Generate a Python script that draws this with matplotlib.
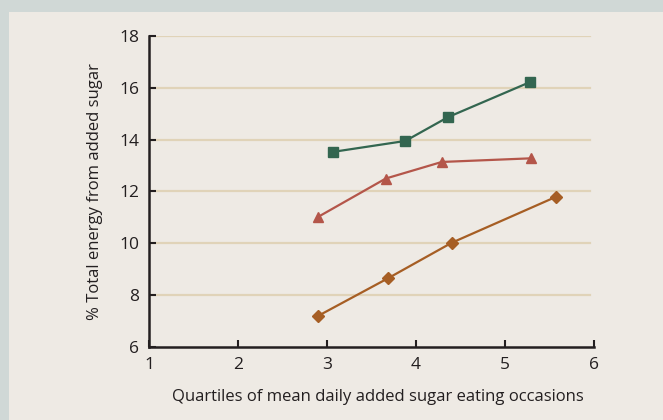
import matplotlib.pyplot as plt
from matplotlib.patches import Rectangle

# data
green_x = [3.07, 3.88, 4.36, 5.28]
green_y = [13.53, 13.95, 14.87, 16.22]
red_x = [2.90, 3.66, 4.29, 5.29]
red_y = [11.02, 12.50, 13.14, 13.28]
orange_x = [2.90, 3.69, 4.40, 5.57]
orange_y = [7.20, 8.66, 10.02, 11.79]

x_ticks = [1, 2, 3, 4, 5, 6]
y_ticks = [6, 8, 10, 12, 14, 16, 18]

plt.rcParams['font.family'] = ['Open Sans', 'DejaVu Sans']

fig = plt.figure(figsize=(6.63, 4.2), dpi=100)
fig.patch.set_facecolor('#d0d8d6')
# inner panel
fig.patches.append(Rectangle((9 / 663, 0), 1, 1 - 12 / 420, transform=fig.transFigure,
                             facecolor='#eeeae4', edgecolor='none', zorder=-10))

ax = fig.add_axes([149 / 663, 1 - 347 / 420, (594 - 149) / 663, (347 - 36) / 420])
ax.set_facecolor('none')

for yv in y_ticks[1:]:
    ax.axhline(yv, xmax=0.99, color='#e0d3b8', lw=1.6, zorder=1)

ax.plot(green_x, green_y, color='#336650', lw=1.6, marker='s', ms=7, zorder=3)
ax.plot(red_x, red_y, color='#b4564a', lw=1.6, marker='^', ms=7, zorder=3)
ax.plot(orange_x, orange_y, color='#a65e24', lw=1.6, marker='D', ms=6.5, zorder=3)

ax.set_xlim(1, 6)
ax.set_ylim(6, 18)
ax.set_xticks(x_ticks)
ax.set_yticks(y_ticks)
for s in ['top', 'right']:
    ax.spines[s].set_visible(False)
for s in ['left', 'bottom']:
    ax.spines[s].set_color('#231f20')
    ax.spines[s].set_linewidth(1.8)
ax.tick_params(direction='in', length=5, width=1.5, color='#231f20',
               labelsize=12.5, labelcolor='#231f20', pad=7)

ax.set_xlabel('Quartiles of mean daily added sugar eating occasions', fontsize=12,
              color='#231f20')
ax.xaxis.set_label_coords(0.515, -0.135)
ax.set_ylabel('% Total energy from added sugar', fontsize=12, color='#231f20', labelpad=12)

fig.savefig('out.png', dpi=100, facecolor=fig.get_facecolor())
